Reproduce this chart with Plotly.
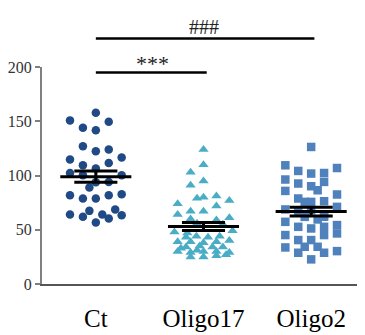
import numpy as np
import plotly.graph_objects as go

categories = ["Ct", "Oligo17", "Oligo2"]

ct_values = [157.9, 150.8, 149.6, 144.1, 141.6, 126.9, 122.3, 123.9, 114.7, 116.5,
             111.5, 109.4, 106.4, 102.3, 100.2, 100.2, 94.1, 88.9, 93.8, 81.8,
             78.8, 78.8, 81.8, 82.8, 64.1, 61.9, 67.4, 56.7, 64.1, 60.4, 68.7, 63.4]
ct_cols = [0, -4, 2, -2, 0, -2, 0, 2, -4, 4,
           2, -2, 0, -4, 4, -2, 2, -1, 0, -4,
           -2, 0, 2, 4, -4, -2, -1, 0, 1, 2, 3, 4]

oligo17_values = [124, 110, 103, 95, 91, 79, 80, 81, 77, 74,
                  72, 67, 67, 64, 61, 60, 59, 56, 55,
                  48, 49, 47, 43, 44, 43, 44, 39, 39, 38, 39, 40,
                  34, 35, 34, 34, 30, 29, 30, 30, 29, 25, 25, 26, 33, 27, 31]
oligo17_cols = [0, 0, -2, 0, -2, -1, 0, 2, 4, -4,
                2, -2, 0, -4, 4, -2, 2, -1, 3,
                -4.5, 4.5, -2.5, -2.7, -1.1, 0.7, 2.5, -4, -2, 0, 2, 4,
                -2.7, -0.6, 1.4, 3, -4, -2, 0, 2, 4, -2, 0, 2, -3.5, 3.5, -1]

oligo2_values = [126.3, 109.4, 104.2, 101.8, 102.3, 106.9, 96.3, 92.6, 90.1, 94.1,
                 86.4, 85.8, 82.5, 78.8, 75.7, 76.3, 75.7, 71.1, 68.7, 61.9,
                 59.5, 57.3, 52.7, 51.2, 52.7, 54.3, 45.1, 46.6, 45.1, 40.5,
                 40.5, 33.7, 34.3, 34.3, 28.8, 28.8, 30.3, 22.7, 66, 68, 64, 62]
oligo2_cols = [0, -4, -2, 0, 2, 4, -4, -2, 0, 2,
               1, -4, 4, -2, 0, 2, -1, 4, -4, -1,
               1, -4, -2, 0, 2, 4, 2, 4, -4, -2,
               0, -4, -1, 1, -2, 2, 4, 0, -2, 0, 2, 2]

ytick_vals = [0, 50, 100, 150, 200]
sig_labels = ["***", "###"]

COL_STEP = 0.06
groups = [
    (ct_values, ct_cols, "circle", "#1f4a85", 8.5),
    (oligo17_values, oligo17_cols, "triangle-up", "#4bacc6", 9),
    (oligo2_values, oligo2_cols, "square", "#4f81bd", 8.5),
]

fig = go.Figure()
for i, (vals, cols, sym, color, size) in enumerate(groups):
    xs = [i + c * COL_STEP for c in cols]
    fig.add_trace(go.Scatter(x=xs, y=vals, mode="markers",
                             marker=dict(symbol=sym, color=color, size=size, line=dict(width=0)),
                             showlegend=False, hoverinfo="y"))

# mean +/- SEM
for i, (vals, cols, sym, color, size) in enumerate(groups):
    v = np.array(vals, dtype=float)
    m = v.mean()
    sem = v.std(ddof=1) / np.sqrt(len(v))
    line = dict(color="black", width=3)
    fig.add_trace(go.Scatter(x=[i - 0.33, i + 0.33], y=[m, m], mode="lines", line=line,
                             showlegend=False, hoverinfo="skip"))
    for yy in (m - sem, m + sem):
        fig.add_trace(go.Scatter(x=[i - 0.2, i + 0.2], y=[yy, yy], mode="lines", line=line,
                                 showlegend=False, hoverinfo="skip"))
    fig.add_trace(go.Scatter(x=[i, i], y=[m - sem, m + sem], mode="lines", line=line,
                             showlegend=False, hoverinfo="skip"))

XR = (-0.5, 2.5)
def px(idx):
    return (idx - XR[0]) / (XR[1] - XR[0])

# significance bars
sig = [(0, 1, 0.975, sig_labels[0], -0.026, 22), (0, 2, 1.131, sig_labels[1], -0.008, 20)]
for a, b, yp, lab, dy, fs in sig:
    fig.add_shape(type="line", xref="paper", yref="paper",
                  x0=px(a), x1=px(b) + 0.01, y0=yp, y1=yp,
                  line=dict(color="black", width=2.5))
    fig.add_annotation(xref="paper", yref="paper", x=(px(a) + px(b)) / 2 + (0.01 if lab == "***" else 0.0),
                       y=yp + dy, yanchor="bottom", text=lab, showarrow=False,
                       font=dict(family="Liberation Serif", size=fs, color="#222"))

# page body has an 8px margin, so the figure is 8px smaller and shifted
fig.update_layout(
    width=357, height=327,
    margin=dict(l=34, r=0, t=58.5, b=51),
    plot_bgcolor="white", paper_bgcolor="white",
    showlegend=False,
    xaxis=dict(range=list(XR), tickvals=[0, 1, 2], ticktext=categories,
               showgrid=False, zeroline=False, showline=True, linecolor="#555",
               linewidth=1.5, ticks="", ticklabelstandoff=11,
               tickfont=dict(family="Liberation Serif", size=25, color="black")),
    yaxis=dict(range=[0, 200], tickvals=ytick_vals, showgrid=False, zeroline=False,
               showline=True, linecolor="#808080", linewidth=2, ticks="outside",
               ticklen=5, tickwidth=2, tickcolor="#808080",
               tickfont=dict(family="Liberation Serif", size=16, color="#333")),
)

fig.write_html("out.html")
